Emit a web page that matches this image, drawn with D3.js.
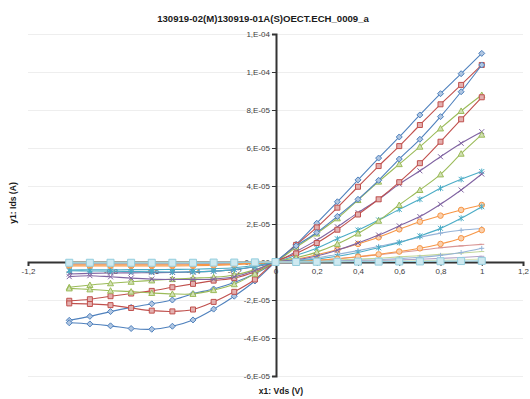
<!DOCTYPE html>
<html>
<head>
<meta charset="utf-8">
<script src="https://cdn.jsdelivr.net/npm/d3@7"></script>
<style>
  body { margin: 0; background: #fff; }
  svg { display: block; font-family: "Liberation Sans", Arial, sans-serif; }
</style>
</head>
<body>
<svg id="chart" width="530" height="399"></svg>
<script>
// Drain-source sweep (V)
const vds = [-1, -0.9, -0.8, -0.7, -0.6, -0.5, -0.4, -0.3, -0.2, -0.1, 0,
             0.1, 0.2, 0.3, 0.4, 0.5, 0.6, 0.7, 0.8, 0.9, 1];

// Drain current, in units of 1e-5 A
const UNIT = 1e-5;
// first sweep of each gate step
const idsBlueA   = [-3.07,-2.86,-2.61,-2.39,-2.20,-2.00,-1.67,-1.42,-1.08,-0.62,0, 0.93,2.04,3.17,4.32,5.47,6.58,7.74,8.86,9.91,10.98];
const idsRedA    = [-2.04,-1.96,-1.80,-1.66,-1.52,-1.33,-1.15,-0.98,-0.85,-0.51,0, 0.90,1.82,2.86,3.96,5.05,6.10,7.21,8.30,9.32,10.37];
const idsGreenA  = [-1.33,-1.21,-1.12,-1.04,-0.97,-0.90,-0.85,-0.80,-0.68,-0.40,0, 0.78,1.50,2.30,3.26,4.23,5.15,6.07,7.03,7.95,8.79];
const idsPurpleA = [-0.63,-0.60,-0.58,-0.57,-0.56,-0.55,-0.52,-0.48,-0.40,-0.25,0, 0.55,1.15,1.85,2.60,3.30,4.10,4.80,5.54,6.25,6.86];
const idsAquaA   = [-0.42,-0.41,-0.41,-0.40,-0.40,-0.39,-0.38,-0.35,-0.30,-0.18,0, 0.35,0.72,1.22,1.68,2.21,2.77,3.30,3.88,4.35,4.76];
const idsOrangeA = [-0.21,-0.21,-0.21,-0.21,-0.21,-0.21,-0.20,-0.18,-0.14,-0.08,0, 0.15,0.38,0.64,0.95,1.30,1.72,2.12,2.44,2.74,3.00];
const idsSkyA    = [-0.10,-0.10,-0.10,-0.10,-0.10,-0.10,-0.09,-0.08,-0.07,-0.04,0, 0.08,0.22,0.40,0.60,0.82,1.05,1.30,1.52,1.67,1.76];
const idsRoseA   = [-0.06,-0.06,-0.06,-0.06,-0.06,-0.06,-0.05,-0.05,-0.04,-0.02,0, 0.03,0.09,0.17,0.27,0.38,0.50,0.62,0.75,0.85,0.93];
const idsLimeA   = [-0.04,-0.04,-0.04,-0.04,-0.04,-0.04,-0.04,-0.03,-0.03,-0.02,0, 0.02,0.05,0.10,0.15,0.20,0.27,0.33,0.40,0.47,0.55];
// second sweep of each gate step
const idsBlueB   = [-3.20,-3.26,-3.36,-3.50,-3.54,-3.38,-3.05,-2.48,-1.80,-1.00,0, 0.85,1.55,2.40,3.30,4.30,5.42,6.46,7.65,8.96,10.37];
const idsRedB    = [-2.18,-2.21,-2.27,-2.42,-2.56,-2.60,-2.50,-2.10,-1.57,-0.92,0, 0.45,1.00,1.70,2.50,3.30,4.20,5.20,6.33,7.51,8.67];
const idsGreenB  = [-1.39,-1.44,-1.51,-1.56,-1.63,-1.68,-1.68,-1.48,-1.17,-0.62,0, 0.22,0.52,0.95,1.50,2.17,3.00,3.79,4.61,5.70,6.70];
const idsPurpleB = [-0.77,-0.72,-0.78,-0.85,-0.90,-0.92,-0.92,-0.90,-0.78,-0.45,0, 0.12,0.32,0.62,1.00,1.42,1.90,2.39,3.04,3.79,4.63];
const idsAquaB   = [-0.46,-0.47,-0.48,-0.50,-0.52,-0.53,-0.52,-0.48,-0.40,-0.24,0, 0.06,0.15,0.30,0.50,0.75,1.02,1.37,1.77,2.30,2.91];
const idsOrangeB = [-0.15,-0.15,-0.15,-0.15,-0.15,-0.15,-0.14,-0.13,-0.10,-0.06,0, 0.03,0.08,0.17,0.28,0.40,0.55,0.72,0.95,1.25,1.68];
const idsSkyB    = [-0.05,-0.05,-0.05,-0.05,-0.05,-0.05,-0.05,-0.04,-0.03,-0.02,0, 0.01,0.03,0.06,0.09,0.12,0.18,0.25,0.35,0.50,0.72];
const idsMauveB  = [-0.03,-0.03,-0.03,-0.03,-0.03,-0.03,-0.03,-0.02,-0.02,-0.01,0, 0.01,0.02,0.04,0.06,0.08,0.11,0.15,0.19,0.24,0.30];
const idsPaleB   = [-0.02,-0.02,-0.02,-0.02,-0.02,-0.02,-0.02,-0.02,-0.01,-0.01,0, 0.00,0.01,0.02,0.03,0.04,0.05,0.07,0.09,0.12,0.15];
const idsFloor   = [-0.04,-0.04,-0.04,-0.04,-0.04,-0.04,-0.04,-0.03,-0.03,-0.02,0, 0.00,0.01,0.01,0.02,0.02,0.03,0.03,0.04,0.05,0.06];

// Axis ticks and their printed labels
const xTicks = [-1.2, -1, -0.8, -0.6, -0.4, -0.2, 0, 0.2, 0.4, 0.6, 0.8, 1, 1.2];
const xTickLabels = ["-1,2", "-1", "-0,8", "-0,6", "-0,4", "-0,2", "0", "0,2", "0,4", "0,6", "0,8", "1", "1,2"];
const yTicks = [1.2e-4, 1e-4, 8e-5, 6e-5, 4e-5, 2e-5, 0, -2e-5, -4e-5, -6e-5];
const yTickLabels = ["1,E-04", "1,E-04", "8,E-05", "6,E-05", "4,E-05", "2,E-05", "0,E+00", "-2,E-05", "-4,E-05", "-6,E-05"];

const titleText = "130919-02(M)130919-01A(S)OECT.ECH_0009_a";
const xTitle = "x1: Vds (V)";
const yTitle = "y1: Ids (A)";

// Series styling (series drawn in this order)
const series = [
  { v: idsBlueA,   color: "#4F81BD", marker: "diamond" },
  { v: idsRedA,    color: "#C0504D", marker: "square" },
  { v: idsGreenA,  color: "#9BBB59", marker: "triangle" },
  { v: idsPurpleA, color: "#8064A2", marker: "x" },
  { v: idsAquaA,   color: "#4BACC6", marker: "star" },
  { v: idsOrangeA, color: "#F79646", marker: "circle" },
  { v: idsSkyA,    color: "#95B3D7", marker: "plus" },
  { v: idsRoseA,   color: "#D99694", marker: "dash" },
  { v: idsLimeA,   color: "#C3D69B", marker: "dash" },
  { v: idsBlueB,   color: "#4F81BD", marker: "diamond" },
  { v: idsRedB,    color: "#C0504D", marker: "square" },
  { v: idsGreenB,  color: "#9BBB59", marker: "triangle" },
  { v: idsPurpleB, color: "#8064A2", marker: "x" },
  { v: idsAquaB,   color: "#4BACC6", marker: "star" },
  { v: idsOrangeB, color: "#F79646", marker: "circle" },
  { v: idsSkyB,    color: "#95B3D7", marker: "plus" },
  { v: idsMauveB,  color: "#B3A2C7", marker: "dash" },
  { v: idsPaleB,   color: "#D7E4BD", marker: "dash" },
  { v: idsFloor,   color: "#93CDDD", marker: "bigsquare" }
];

const svg = d3.select("#chart");
const plot = { left: 28, right: 523, top: 34, bottom: 376 };

const x = d3.scaleLinear().domain([-1.2, 1.2]).range([plot.left, plot.right]);
const y = d3.scaleLinear().domain([-6e-5, 1.2e-4]).range([plot.bottom, plot.top]);

// horizontal gridlines
svg.append("g")
  .selectAll("line")
  .data(yTicks)
  .join("line")
  .attr("x1", plot.left).attr("x2", plot.right)
  .attr("y1", d => Math.round(y(d)) + 0.5).attr("y2", d => Math.round(y(d)) + 0.5)
  .attr("stroke", "#eeeeee").attr("stroke-width", 1);

// x axis through y = 0
const xAxis = svg.append("g")
  .attr("transform", `translate(0,${Math.round(y(0))})`)
  .call(d3.axisBottom(x).tickValues(xTicks).tickFormat((d, i) => xTickLabels[i]).tickSizeOuter(0).tickSize(4));
// y axis through x = 0
const yAxis = svg.append("g")
  .attr("transform", `translate(${Math.round(x(0))},0)`)
  .call(d3.axisLeft(y).tickValues(yTicks).tickFormat((d, i) => yTickLabels[i]).tickSizeOuter(0).tickSize(4));

[xAxis, yAxis].forEach(g => {
  g.select(".domain").attr("stroke", "#333").attr("stroke-width", 2);
  g.selectAll(".tick line").attr("stroke", "#333").attr("stroke-width", 1);
  g.selectAll(".tick text").attr("fill", "#404040").style("font-size", "8px")
    .style("font-family", '"Liberation Sans", Arial, sans-serif');
});
yAxis.selectAll(".tick text").attr("x", -6);
xAxis.selectAll(".tick text").attr("y", 6);

// marker shapes
function markerPath(type) {
  const s = 2.5;
  switch (type) {
    case "diamond": return `M0,${-s - 0.5}L${s + 0.5},0L0,${s + 0.5}L${-s - 0.5},0Z`;
    case "square": return `M${-s},${-s}H${s}V${s}H${-s}Z`;
    case "bigsquare": return `M-3.5,-3.5H3.5V3.5H-3.5Z`;
    case "triangle": return `M0,${-s - 0.5}L${s + 0.5},${s}L${-s - 0.5},${s}Z`;
    case "x": return `M${-s},${-s}L${s},${s}M${-s},${s}L${s},${-s}`;
    case "star": return `M${-s},${-s}L${s},${s}M${-s},${s}L${s},${-s}M0,${-s - 0.5}V${s + 0.5}`;
    case "circle": return d3.symbol(d3.symbolCircle, 24)();
    case "plus": return `M${-s},0H${s}M0,${-s}V${s}`;
    case "dash": return `M${-s},0H${s}`;
  }
  return "";
}
const openMarkers = new Set(["x", "star", "plus", "dash"]);

const line = d3.line()
  .x(d => x(d[0]))
  .y(d => y(d[1] * UNIT))
  .curve(d3.curveCatmullRom.alpha(0.5));

const layer = svg.append("g");
series.forEach(s => {
  const pts = vds.map((v, i) => [v, s.v[i]]);
  const g = layer.append("g");
  g.append("path")
    .attr("d", line(pts))
    .attr("fill", "none")
    .attr("stroke", s.color)
    .attr("stroke-width", 1.1);
  g.selectAll("path.m")
    .data(pts)
    .join("path")
    .attr("class", "m")
    .attr("transform", d => `translate(${x(d[0])},${y(d[1] * UNIT)})`)
    .attr("d", markerPath(s.marker))
    .attr("fill", openMarkers.has(s.marker) ? "none" : d3.interpolateRgb(s.color, "#fff")(0.55))
    .attr("stroke", s.color)
    .attr("stroke-width", 1);
});

// titles
svg.append("text")
  .attr("x", 263).attr("y", 22)
  .attr("text-anchor", "middle")
  .style("font-size", "9.6px").style("font-weight", "bold").attr("fill", "#1a1a1a")
  .text(titleText);

svg.append("text")
  .attr("x", 281).attr("y", 394)
  .attr("text-anchor", "middle")
  .style("font-size", "8.6px").style("font-weight", "bold").attr("fill", "#1a1a1a")
  .text(xTitle);

svg.append("text")
  .attr("transform", "translate(16,203) rotate(-90)")
  .attr("text-anchor", "middle")
  .style("font-size", "8.6px").style("font-weight", "bold").attr("fill", "#1a1a1a")
  .text(yTitle);
</script>
</body>
</html>
